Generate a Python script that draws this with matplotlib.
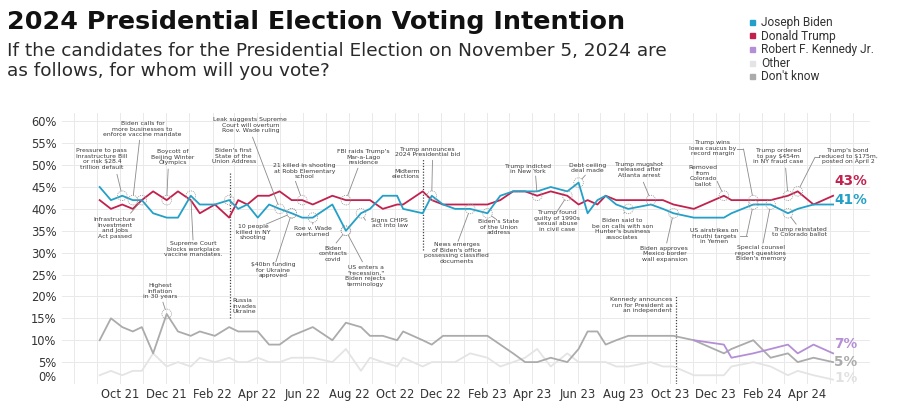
import numpy as np
import pandas as pd
import matplotlib
matplotlib.use("Agg")
import matplotlib.pyplot as plt
from matplotlib.lines import Line2D

# ---- poll dates and shares (%) ----
poll_dates = pd.to_datetime([
    "2021-09-04", "2021-09-19", "2021-10-04", "2021-10-18", "2021-10-30", "2021-11-14",
    "2021-12-02", "2021-12-17", "2022-01-03", "2022-01-15", "2022-02-04", "2022-02-23",
    "2022-03-07", "2022-03-19", "2022-04-02", "2022-04-17", "2022-05-01", "2022-05-17",
    "2022-05-31", "2022-06-14", "2022-07-10", "2022-07-28", "2022-08-17", "2022-08-29",
    "2022-09-15", "2022-10-04", "2022-10-12", "2022-11-07", "2022-11-19", "2022-12-04",
    "2022-12-20", "2023-01-09", "2023-02-01", "2023-02-18", "2023-03-07", "2023-03-23",
    "2023-04-08", "2023-04-26", "2023-05-18", "2023-06-02", "2023-06-14", "2023-06-27",
    "2023-07-08", "2023-07-22", "2023-08-07", "2023-09-06", "2023-09-22", "2023-10-06",
    "2023-11-02", "2023-12-12", "2023-12-22", "2024-01-20", "2024-02-12", "2024-03-06",
    "2024-03-19", "2024-04-09", "2024-05-05",
])

biden = [45, 42, 43, 42, 42, 39, 38, 38, 43, 41, 41, 42, 40, 41, 38, 41, 40, 39, 38, 38,
         41, 35, 39, 40, 43, 43, 40, 39, 43, 41, 40, 40, 39, 43, 44, 44, 44, 45, 44, 46,
         39, 42, 43, 41, 40, 41, 40, 39, 38, 38, 39, 41, 41, 39, 40, 41, 41]
trump = [42, 40, 41, 40, 42, 44, 42, 44, 42, 39, 41, 38, 42, 41, 43, 43, 44, 42, 42, 41,
         43, 42, 42, 42, 40, 41, 41, 44, 42, 41, 41, 41, 41, 42, 44, 44, 43, 44, 43, 41,
         42, 41, 43, 42, 42, 42, 42, 41, 40, 43, 42, 42, 42, 43, 44, 41, 43]
kennedy = [np.nan] * 48 + [10, 9, 6, 7, 8, 9, 7, 9, 7]
other = [2, 3, 2, 3, 3, 7, 4, 5, 4, 6, 5, 6, 5, 5, 6, 5, 5, 6, 6, 6,
         5, 8, 3, 6, 5, 4, 6, 4, 5, 5, 5, 7, 6, 4, 5, 6, 8, 4, 7, 5,
         5, 5, 5, 4, 4, 5, 4, 4, 2, 2, 4, 5, 4, 2, 3, 2, 1]
dont_know = [10, 15, 13, 12, 13, 7, 16, 12, 11, 12, 11, 13, 12, 12, 12, 9, 9, 11, 12, 13,
             10, 14, 13, 11, 11, 10, 12, 10, 9, 11, 11, 11, 11, 9, 7, 5, 5, 6, 5, 8,
             12, 12, 9, 10, 11, 11, 11, 11, 10, 7, 8, 10, 6, 7, 5, 6, 5]

series_names = ["Joseph Biden", "Donald Trump", "Robert F. Kennedy Jr.", "Other", "Don't know"]
colors = {"Joseph Biden": "#23a0c8", "Donald Trump": "#c2214d",
          "Robert F. Kennedy Jr.": "#b48fd6", "Other": "#e4e4e4", "Don't know": "#ababab"}
values = {"Joseph Biden": biden, "Donald Trump": trump, "Robert F. Kennedy Jr.": kennedy,
          "Other": other, "Don't know": dont_know}

tick_months = pd.date_range("2021-10-01", "2024-04-01", freq="2MS")
grid_months = pd.date_range("2021-08-01", "2024-06-01", freq="MS")
y_ticks = list(range(0, 61, 5))

# key events drawn as dotted verticals: (date, from %, to %)
event_lines = [("2022-02-24", 15.1, 48.4), ("2022-11-08", 30.5, 51.5), ("2023-10-09", 0, 20.0)]

# annotations: text, text centre (date, %), connector start (date, %), series, poll index
notes = [
    ("Pressure to pass\nInrastructure Bill\nor risk $28.4\ntrillion default", "2021-09-07", 51.4, "2021-09-27", 47.9, "Joseph Biden", 2),
    ("Biden calls for\nmore businesses to\nenforce vaccine mandate", "2021-10-31", 58.2, "2021-10-27", 55.7, "Joseph Biden", 3),
    ("Boycott of\nBeijing Winter\nOlympics", "2021-12-10", 51.8, "2021-12-04", 49.1, "Donald Trump", 6),
    ("Leak suggests Supreme\nCourt will overturn\nRoe v. Wade ruling", "2022-03-23", 59.1, "2022-03-26", 56.4, "Joseph Biden", 16),
    ("Biden's first\nState of the\nUnion Address", "2022-03-01", 52.0, None, None, "Joseph Biden", 11),
    ("21 killed in shooting\nat Robb Elementary\nschool", "2022-06-03", 48.6, "2022-05-22", 46.3, "Donald Trump", 18),
    ("10 people\nkilled in NY\nshooting", "2022-03-27", 34.7, "2022-04-13", 36.5, "Joseph Biden", 17),
    ("$40bn funding\nfor Ukraine\napproved", "2022-04-22", 26.0, "2022-04-26", 27.9, "Joseph Biden", 17),
    ("Roe v. Wade\noverturned", "2022-06-14", 34.9, "2022-06-14", 36.5, "Joseph Biden", 19),
    ("Biden\ncontracts\ncovid", "2022-07-11", 29.7, "2022-07-15", 32.2, "Joseph Biden", 21),
    ("US enters a\n\"recession,\"\nBiden rejects\nterminology", "2022-08-23", 24.7, "2022-08-19", 27.9, "Joseph Biden", 21),
    ("Signs CHIPS\nact into law", "2022-09-24", 36.8, "2022-08-23", 37.4, "Joseph Biden", 22),
    ("FBI raids Trump's\nMar-a-Lago\nresidence", "2022-08-20", 51.8, "2022-08-13", 49.3, "Donald Trump", 21),
    ("Trump announces\n2024 Presidential bid", "2022-11-13", 53.0, "2022-11-20", 51.1, "Joseph Biden", 28),
    ("News emerges\nof Biden's office\npossessing classified\ndocuments", "2022-12-22", 29.9, "2022-12-24", 32.6, "Joseph Biden", 31),
    ("Biden's State\nof the Union\naddress", "2023-02-16", 35.8, "2023-02-12", 37.7, "Joseph Biden", 32),
    ("Trump indicted\nin New York", "2023-03-27", 49.1, "2023-04-06", 47.5, "Donald Trump", 36),
    ("Trump found\nguilty of 1990s\nsexual abuse\nin civil case", "2023-05-05", 37.2, "2023-05-04", 39.3, "Donald Trump", 38),
    ("Debt ceiling\ndeal made", "2023-06-14", 49.3, "2023-06-11", 47.7, "Joseph Biden", 39),
    ("Trump mugshot\nreleased after\nAtlanta arrest", "2023-08-22", 48.9, "2023-08-27", 46.1, "Donald Trump", 45),
    ("Biden said to\nbe on calls with son\nHunter's business\nassociates", "2023-07-30", 35.4, "2023-08-01", 39.0, "Joseph Biden", 44),
    ("Biden approves\nMexico border\nwall expansion", "2023-09-24", 29.7, "2023-09-27", 32.2, "Joseph Biden", 47),
    ("Removed\nfrom\nColorado\nballot", "2023-11-14", 47.5, "2023-12-03", 46.3, "Donald Trump", 49),
    ("Trump ordered\nto pay $454m\nin NY fraud case", "2024-02-22", 52.0, "2024-03-03", 49.3, "Donald Trump", 53),
    ("Special counsel\nreport questions\nBiden's memory", "2024-01-30", 29.9, "2024-02-02", 32.2, "Joseph Biden", 52),
    ("Trump reinstated\nto Colorado ballot", "2024-03-22", 34.7, "2024-03-17", 36.5, "Joseph Biden", 53),
    ("Infrastructure\nInvestment\nand Jobs\nAct passed", "2021-09-24", 35.6, "2021-10-15", 39.0, "Joseph Biden", 4),
    ("Supreme Court\nblocks workplace\nvaccine mandates.", "2022-01-06", 30.8, "2022-01-06", 32.9, "Joseph Biden", 8),
    ("Highest\ninflation\nin 30 years", "2021-11-23", 21.2, "2021-11-27", 18.7, "Don't know", 6),
]
# notes whose connector has a short horizontal tick first: text, centre, tick (from, to, %), series, index
elbow_notes = [
    ("Trump wins\nIowa caucus by\nrecord margin", "2023-11-27", 53.9, "2023-12-29", "2024-01-07", 53.7, "Donald Trump", 51),
    ("US airstrikes on\nHouthi targets\nin Yemen", "2023-11-29", 33.8, "2024-01-03", "2024-01-11", 33.8, "Joseph Biden", 51),
    ("Trump's bond\nreduced to $175m,\nposted on April 2", "2024-05-25", 52.0, "2024-04-16", "2024-04-11", 51.8, "Donald Trump", 54),
]

NOTE_FS = 4.4
NOTE_C = "#3a3a3a"
LINK_C = "#8a8a8a"

fig = plt.figure(figsize=(9, 4.08), dpi=100)
ax = fig.add_axes([62 / 900, 1 - 384 / 408, 808 / 900, 271 / 408])
for s in ax.spines.values():
    s.set_visible(False)

ax.set_xlim(pd.Timestamp("2021-07-16"), pd.Timestamp("2024-06-23"))
ax.set_ylim(0, 61.9)
ax.set_yticks(y_ticks)
ax.set_yticklabels(["" if v == 0 else f"{v}%" for v in y_ticks])
ax.set_xticks(tick_months)
ax.set_xticklabels([d.strftime("%b %y") for d in tick_months])
ax.set_xticks(grid_months, minor=True)
ax.tick_params(axis="both", which="both", length=0, labelsize=8.3, labelcolor="#333333")
ax.tick_params(axis="y", pad=4)
ax.tick_params(axis="x", pad=3)
ax.grid(True, which="both", color="#e9e9e9", lw=0.7)
ax.set_axisbelow(True)
ax.annotate("0%", xy=(0, 0), xycoords=("axes fraction", "data"), xytext=(-4, 4.5),
            textcoords="offset points", ha="right", va="center", fontsize=8.3, color="#333333")

# series lines
for name in ["Other", "Don't know", "Robert F. Kennedy Jr.", "Donald Trump", "Joseph Biden"]:
    ax.plot(poll_dates, values[name], color=colors[name], lw=1.3, zorder=3)

# end-of-line labels
end_labels = [("Donald Trump", 10.5), ("Joseph Biden", 3), ("Robert F. Kennedy Jr.", 7),
              ("Don't know", 0), ("Other", 1)]
for name, dy in end_labels:
    v = values[name][-1]
    c = colors[name] if name != "Other" else "#e1e1e1"
    ax.annotate(f"{v}%", xy=(poll_dates[-1], v), xytext=(1, dy), textcoords="offset points",
                ha="left", va="center", fontsize=9.8, fontweight="bold", color=c)

# event verticals
for d, lo, hi in event_lines:
    ax.plot([pd.Timestamp(d)] * 2, [lo, hi], color="#444444", lw=0.9, ls=(0, (1, 1.3)), zorder=2)

ax.annotate("Midterm\nelections", xy=(pd.Timestamp("2022-11-08"), 48.0), xytext=(-2.5, 0),
            textcoords="offset points", ha="right", va="center", fontsize=NOTE_FS,
            color=NOTE_C, linespacing=1.15)
ax.annotate("Russia\ninvades\nUkraine", xy=(pd.Timestamp("2022-02-24"), 17.8), xytext=(1.5, 0),
            textcoords="offset points", ha="left", va="center", fontsize=NOTE_FS,
            color=NOTE_C, linespacing=1.15)
ax.annotate("Kennedy announces\nrun for President as\nan independent", xy=(pd.Timestamp("2023-10-09"), 18.0),
            xytext=(-2.5, 0), textcoords="offset points", ha="right", va="center",
            fontsize=NOTE_FS, color=NOTE_C, linespacing=1.15, multialignment="right")


def mark(name, i):
    x, y = poll_dates[i], values[name][i]
    ax.scatter([x], [y], s=48, facecolors="none", edgecolors="#9a9a9a", linewidths=0.6,
               linestyles=(0, (1.2, 1.2)), zorder=4)
    return x, y


for text, tx, ty, sx, sy, name, i in notes:
    px_, py_ = mark(name, i)
    ax.text(pd.Timestamp(tx), ty, text, ha="center", va="center", fontsize=NOTE_FS,
            color=NOTE_C, linespacing=1.15, zorder=5)
    if sx is not None:
        ax.annotate("", xy=(px_, py_), xytext=(pd.Timestamp(sx), sy),
                    arrowprops=dict(arrowstyle="-", color=LINK_C, lw=0.6, shrinkA=0, shrinkB=3.5))

for text, tx, ty, e0, e1, ev, name, i in elbow_notes:
    px_, py_ = mark(name, i)
    ax.text(pd.Timestamp(tx), ty, text, ha="center", va="center", fontsize=NOTE_FS,
            color=NOTE_C, linespacing=1.15, zorder=5)
    ax.plot([pd.Timestamp(e0), pd.Timestamp(e1)], [ev, ev], color=LINK_C, lw=0.6)
    ax.annotate("", xy=(px_, py_), xytext=(pd.Timestamp(e1), ev),
                arrowprops=dict(arrowstyle="-", color=LINK_C, lw=0.6, shrinkA=0, shrinkB=3.5))

# titles
fig.text(7 / 900, 1 - 22 / 408, "2024 Presidential Election Voting Intention",
         fontsize=18.3, fontweight="bold", color="#111111", va="center")
fig.text(7 / 900, 1 - 42 / 408,
         "If the candidates for the Presidential Election on November 5, 2024 are\nas follows, for whom will you vote?",
         fontsize=13.3, color="#2a2a2a", va="top", linespacing=1.12)

# legend
handles = [Line2D([], [], marker="s", ls="none", markersize=3.6, color=colors[n]) for n in series_names]
fig.legend(handles, series_names, loc="upper left", bbox_to_anchor=(748 / 900, 1 - 16 / 408),
           frameon=False, prop={"family": "Roboto", "size": 8.6}, handlelength=0.6,
           handletextpad=0.5, labelspacing=0.05, borderaxespad=0, borderpad=0,
           labelcolor="#333333")

fig.savefig("out.png", dpi=100)
